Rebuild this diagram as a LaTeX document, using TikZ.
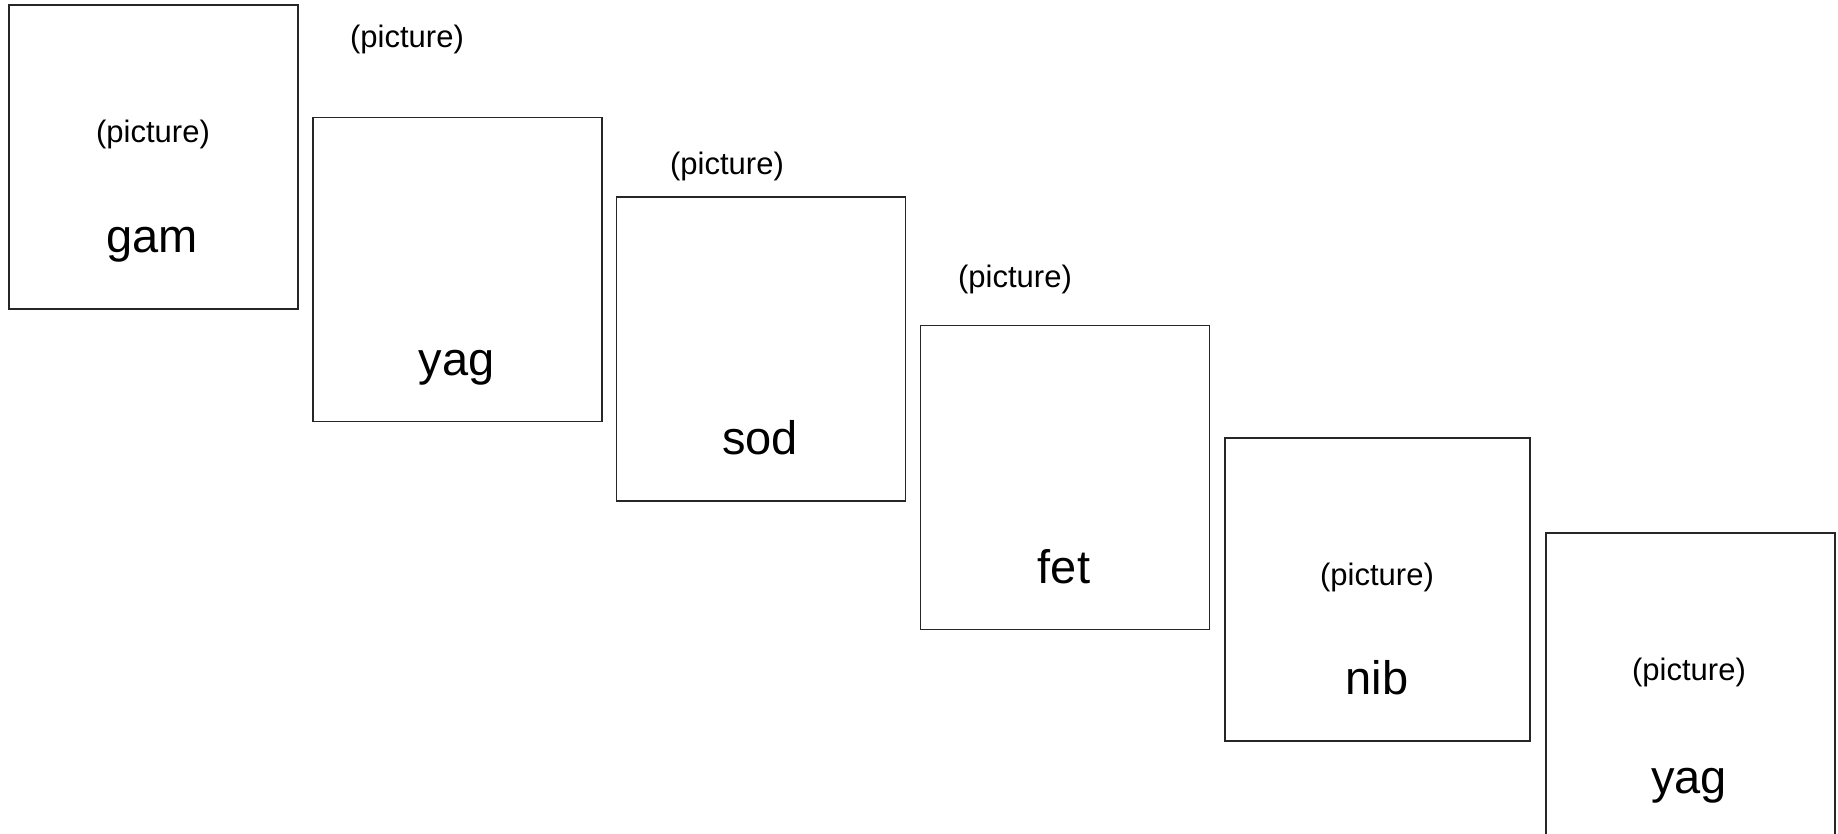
\documentclass[tikz,border=0pt]{standalone}
\usepackage{fontspec}
\setmainfont{Liberation Sans}
\begin{document}
\begin{tikzpicture}[x=0.5pt, y=-0.5pt,
  card/.style={draw=black!85, line width=0.8pt, rectangle, inner sep=0pt,
               minimum width=144.5pt, minimum height=152pt},
  piclabel/.style={font=\fontsize{15.5pt}{18pt}\selectfont, inner sep=0pt},
  word/.style={font=\fontsize{23.5pt}{28pt}\selectfont, inner sep=0pt, anchor=base}]
  \useasboundingbox (0,0) rectangle (1838,834);

  % cards, stepping down to the right
  \node[card] (c1) at (153.5,157) {};
  \node[card] (c2) at (457.5,269.5) {};
  \node[card] (c3) at (761,349) {};
  \node[card] (c4) at (1065,477.5) {};
  \node[card, minimum width=152.5pt, minimum height=151.5pt] (c5) at (1377.5,589.5) {};
  \node[card] (c6) at (1690.5,685) {};

  % picture placeholders
  \node[piclabel] (p1) at (153,134.5) {(picture)};
  \node[piclabel] (p2) at (407,39.5) {(picture)};
  \node[piclabel] (p3) at (727,166.5) {(picture)};
  \node[piclabel] (p4) at (1015,279.5) {(picture)};
  \node[piclabel] (p5) at (1377,577.5) {(picture)};
  \node[piclabel] (p6) at (1689,672) {(picture)};

  % words
  \node[word] (w1) at (152,253) {gam};
  \node[word] (w2) at (456.5,376) {yag};
  \node[word] (w3) at (760,454) {sod};
  \node[word] (w4) at (1064,583) {fet};
  \node[word] (w5) at (1377,694) {nib};
  \node[word] (w6) at (1689,793) {yag};
\end{tikzpicture}
\end{document}
